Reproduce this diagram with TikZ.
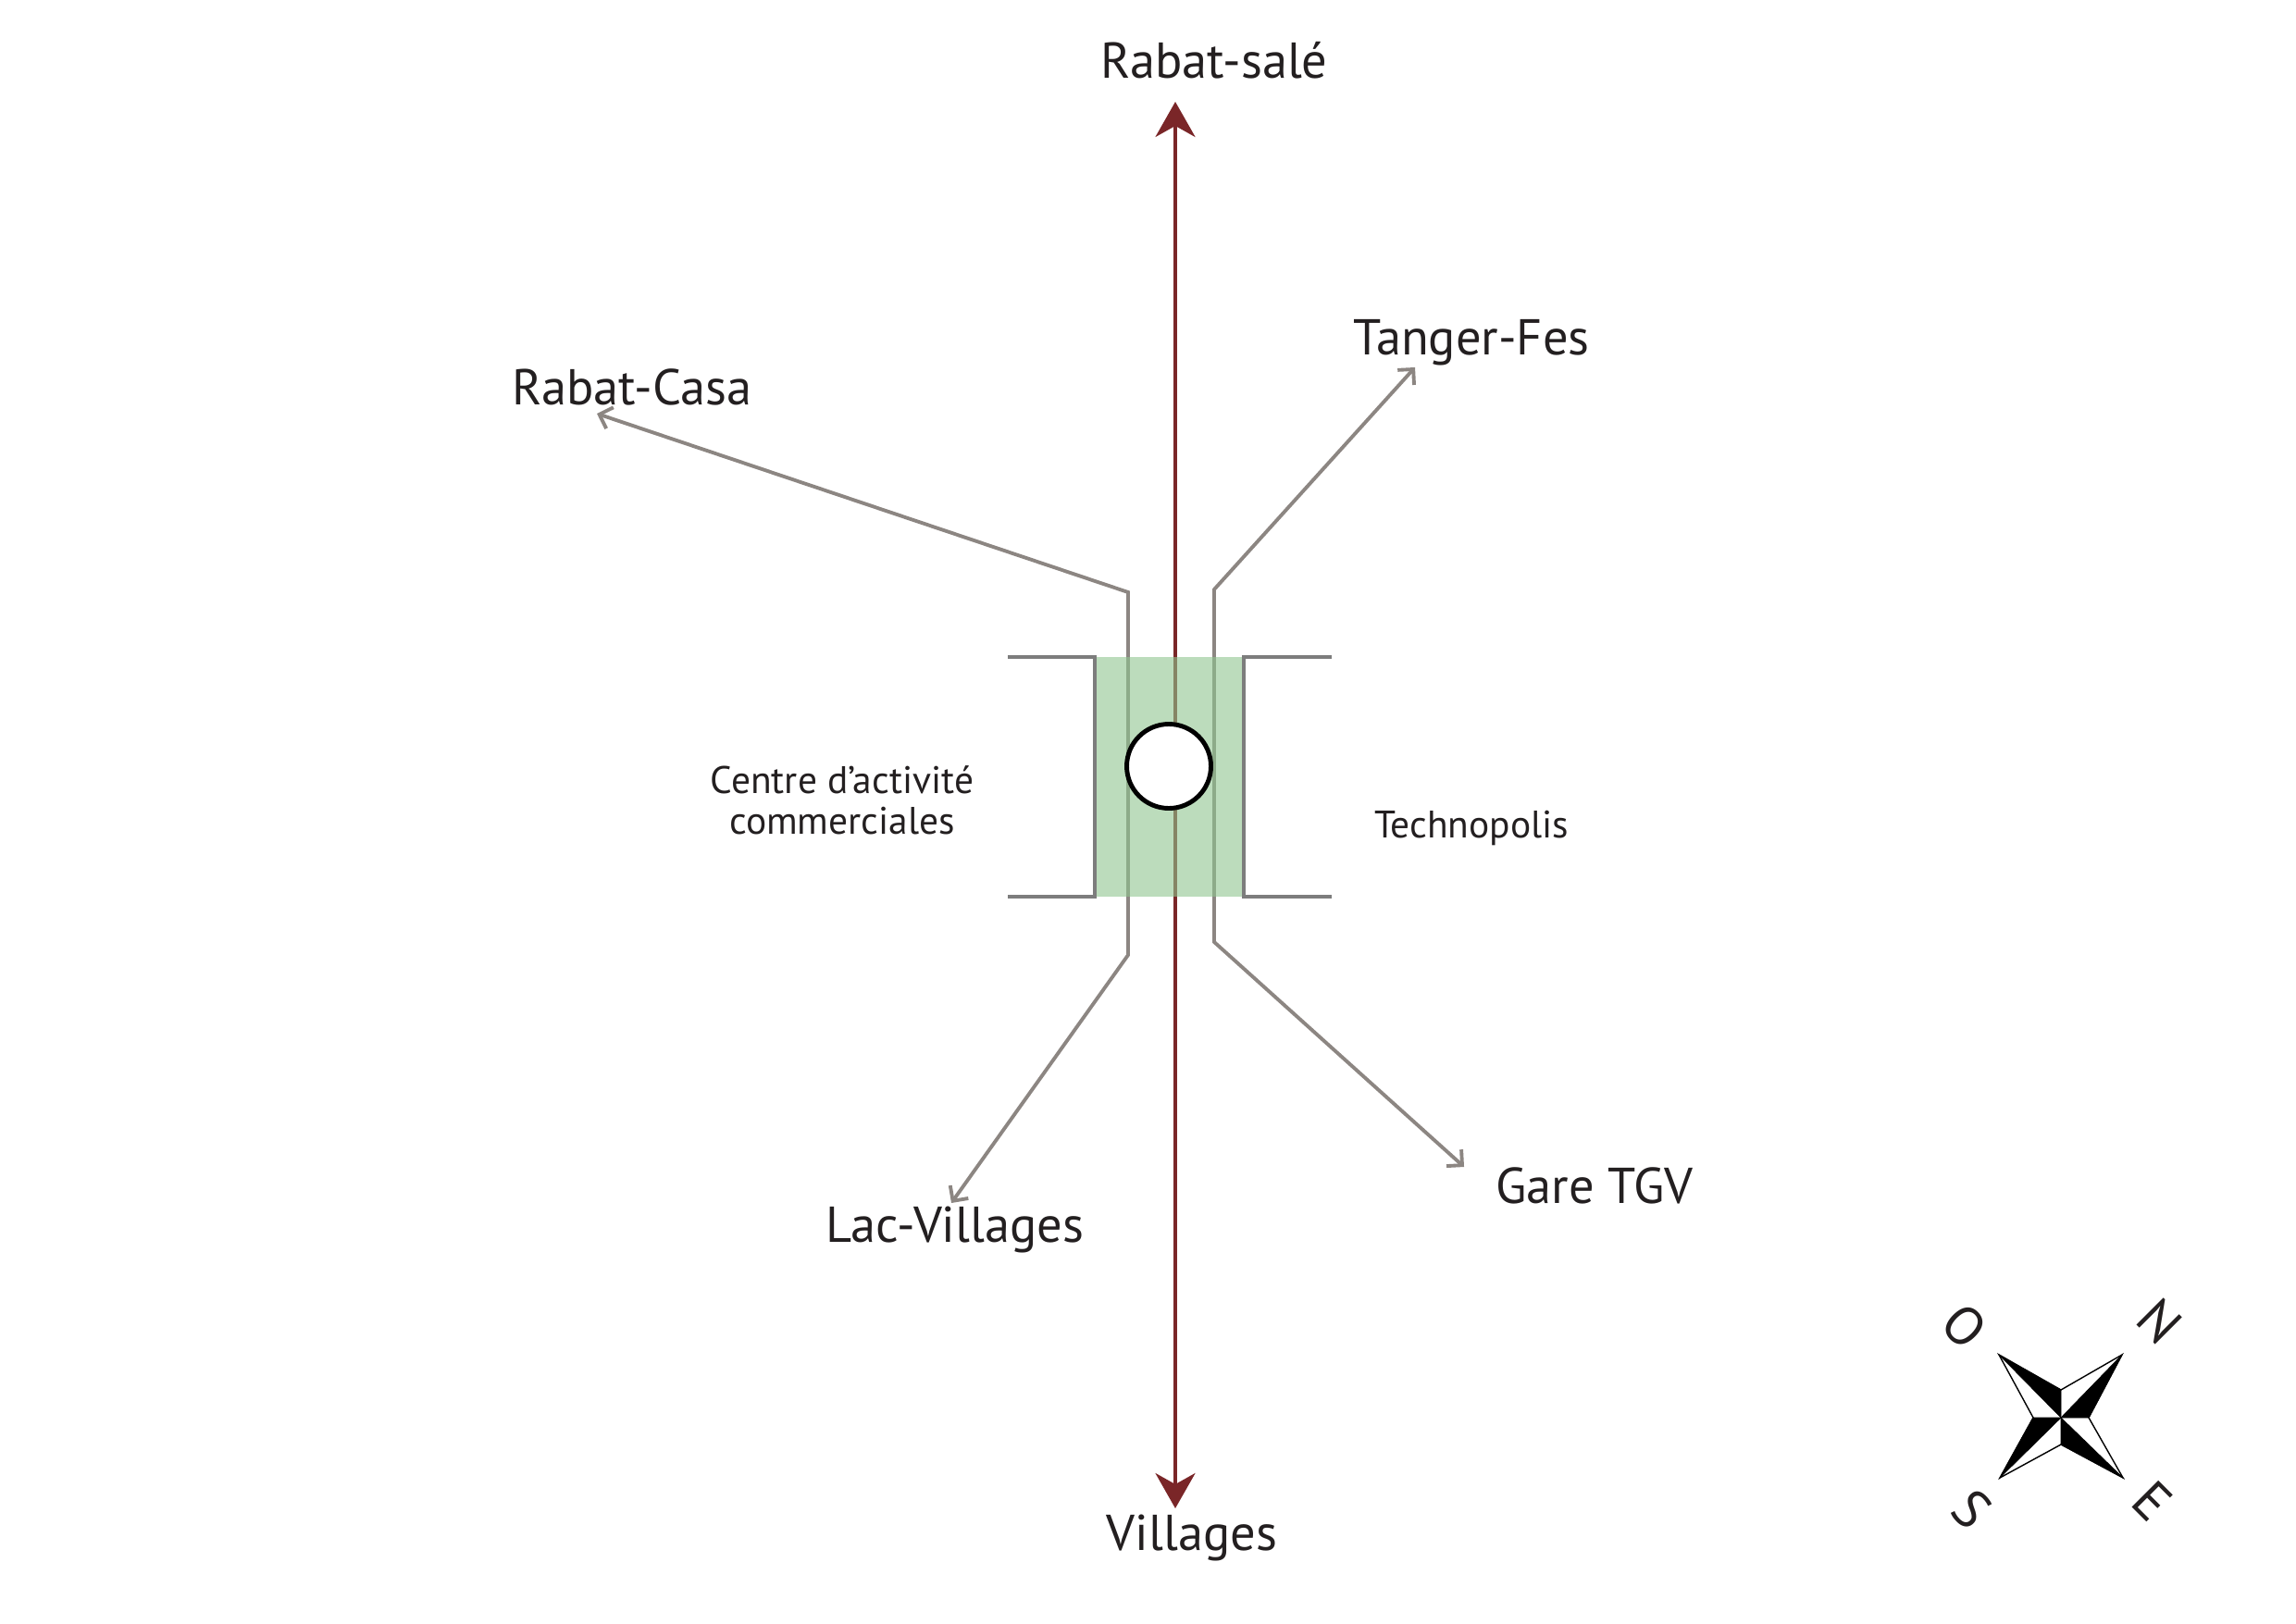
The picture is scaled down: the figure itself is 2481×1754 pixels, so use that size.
\documentclass[tikz,border=0pt]{standalone}
\usepackage{fontspec}
\setmainfont{PT Sans}
\usetikzlibrary{arrows.meta}
\definecolor{axisred}{RGB}{122,38,40}
\definecolor{roadgrey}{RGB}{140,134,130}
\definecolor{edgegrey}{RGB}{125,125,125}
\definecolor{zonegreen}{RGB}{143,197,143}
\definecolor{inkblack}{RGB}{35,31,32}
\begin{document}
\begin{tikzpicture}[x=0.1mm,y=-0.1mm,inner sep=0pt,outer sep=0pt,
bigtext/.style={font=\fontsize{15.5}{18}\selectfont,text=inkblack,anchor=base},
smalltext/.style={font=\fontsize{11.8}{12.6}\selectfont,text=inkblack,align=center},
axis/.style={draw=axisred,line width=1.1pt,{Stealth[length=3.8mm,width=4.3mm,inset=1.2mm]}-{Stealth[length=3.8mm,width=4.3mm,inset=1.2mm]}},
road/.style={draw=roadgrey,line width=1.1pt,{Straight Barb[length=1.2mm,width=2.4mm]}-{Straight Barb[length=1.2mm,width=2.4mm]}},
bracket/.style={draw=edgegrey,line width=1.4pt},
compass/.style={font=\fontsize{16.5}{18}\selectfont,text=inkblack,rotate=-45}]
\useasboundingbox (0,0) rectangle (2481,1754);
% destinations
\draw (1312,85) node[bigtext] (sale) {Rabat-salé};
\draw (1288,1675) node[bigtext] (villages) {Villages};
\draw (683,437) node[bigtext] (casa) {Rabat-Casa};
\draw (1590,383) node[bigtext] (tanger) {Tanger-Fes};
\draw (1032,1342) node[bigtext] (lac) {Lac-Villages};
\draw (1723,1300) node[bigtext] (gare) {Gare TGV};
\draw (910,865) node[smalltext] (centre) {Centre d’activité\\commerciales};
\draw (1590,905) node[smalltext,anchor=base] (techno) {Technopolis};
% main axis
\coordinate (saleEnd) at (1270,110);
\coordinate (villEnd) at (1270,1630);
\draw[axis] (villEnd) -- (saleEnd);
% side roads
\coordinate (casaEnd) at (645,447);
\coordinate (casaBend) at (1219,640);
\coordinate (lacBend) at (1219,1032);
\coordinate (lacEnd) at (1028,1300);
\coordinate (tangerEnd) at (1529,397);
\coordinate (tangerBend) at (1312,637);
\coordinate (gareBend) at (1312,1018);
\coordinate (gareEnd) at (1582,1261);
\draw[road] (casaEnd) -- (casaBend) -- (lacBend) -- (lacEnd);
\draw[road] (tangerEnd) -- (tangerBend) -- (gareBend) -- (gareEnd);
% centre
\fill[zonegreen,fill opacity=0.6] (1183,710) rectangle (1344,969);
\draw[bracket] (1089,710) -- (1183,710) -- (1183,969) -- (1089,969);
\draw[bracket] (1439,710) -- (1344,710) -- (1344,969) -- (1439,969);
\draw (1263,828) node[draw=black,fill=white,circle,line width=1.4pt,minimum size=0.91cm] (hub) {};
% compass
\begin{scope}[shift={(2227,1532)}]
\filldraw[fill=white,draw=black,line width=0.4pt] (66,-68) -- (30,0) -- (67,65) -- (0,29) -- (-66,65) -- (-30,0) -- (-67,-68) -- (0,-30) -- cycle;
\filldraw[black,line width=0.2pt] (0,0) -- (66,-68) -- (30,0) -- cycle;
\filldraw[black,line width=0.2pt] (0,0) -- (-67,-68) -- (0,-30) -- cycle;
\filldraw[black,line width=0.2pt] (0,0) -- (-66,65) -- (-30,0) -- cycle;
\filldraw[black,line width=0.2pt] (0,0) -- (67,65) -- (0,29) -- cycle;
\end{scope}
\node[compass] (north) at (2334,1428) {N};
\node[compass] (east) at (2326,1622) {E};
\node[compass] (south) at (2131,1631) {S};
\node[compass] (west) at (2123,1433) {O};
\end{tikzpicture}
\end{document}
